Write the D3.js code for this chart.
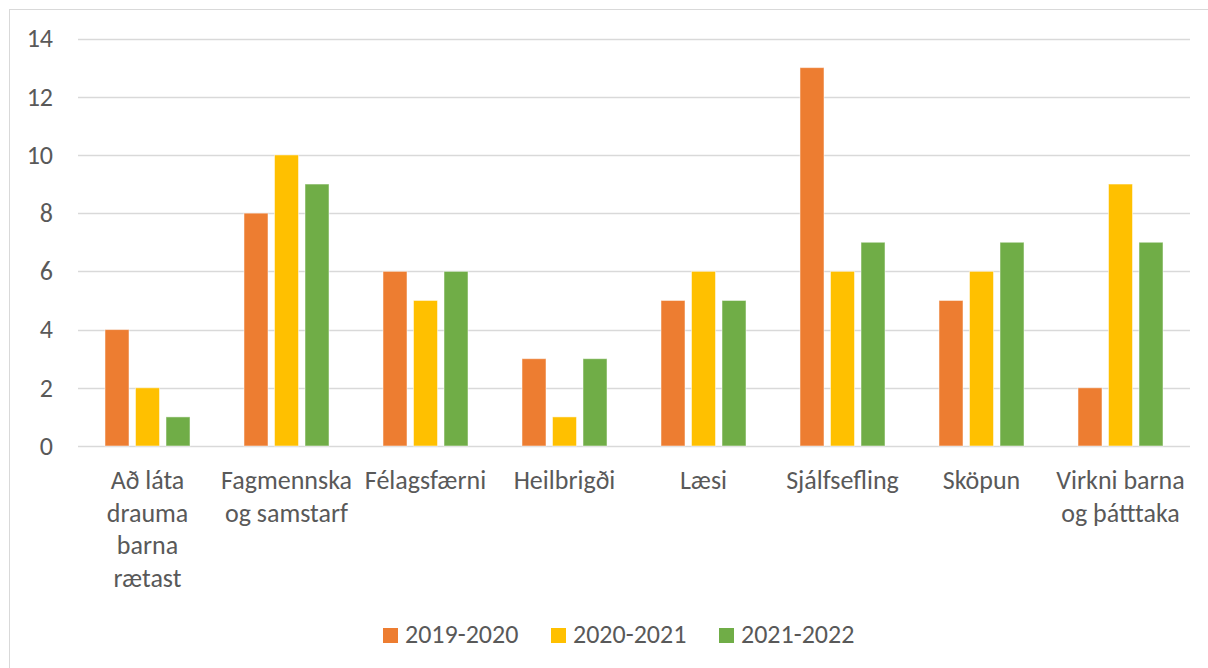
<!DOCTYPE html>
<html>
<head>
<meta charset="utf-8">
<script src="https://cdn.jsdelivr.net/npm/d3@7"></script>
<style>
  html, body { margin: 0; padding: 0; background: #fff; }
  svg { display: block; }
  text { font-family: Carlito, Calibri, "Open Sans", sans-serif; fill: #595959; }
</style>
</head>
<body>
<svg id="chart" width="1208" height="668"></svg>
<script>
// Categories (line breaks as shown under the axis)
const categories = [
  "Að láta\ndrauma\nbarna\nrætast",
  "Fagmennska\nog samstarf",
  "Félagsfærni",
  "Heilbrigði",
  "Læsi",
  "Sjálfsefling",
  "Sköpun",
  "Virkni barna\nog þátttaka"
];
const seriesNames = ["2019-2020", "2020-2021", "2021-2022"];
const values2019 = [4, 8, 6, 3, 5, 13, 5, 2];
const values2020 = [2, 10, 5, 1, 6, 6, 6, 9];
const values2021 = [1, 9, 6, 3, 5, 7, 7, 7];
const yTicks = [0, 2, 4, 6, 8, 10, 12, 14];
const colors = ["#ED7D31", "#FFC000", "#70AD47"];

const series = [values2019, values2020, values2021];
const FONT = "Carlito, Calibri, 'Open Sans', sans-serif";
const FONT_SIZE = 26;

const svg = d3.select("#chart");
const W = 1208, H = 668;

// Outer chart frame
svg.append("rect")
  .attr("x", 9.5).attr("y", 9.5)
  .attr("width", W).attr("height", H)
  .attr("fill", "#fff")
  .attr("stroke", "#d9d9d9").attr("stroke-width", 1);

const plot = { left: 78, right: 1190, top: 38.5, bottom: 446 };

const x = d3.scaleBand()
  .domain(categories)
  .range([plot.left, plot.right])
  .paddingInner(0).paddingOuter(0);

const y = d3.scaleLinear()
  .domain([0, 14])
  .range([plot.bottom, plot.top]);

// Horizontal gridlines
svg.append("g")
  .selectAll("line")
  .data(yTicks)
  .join("line")
  .attr("x1", plot.left).attr("x2", plot.right)
  .attr("y1", d => Math.round(y(d)) + 0.5)
  .attr("y2", d => Math.round(y(d)) + 0.5)
  .attr("stroke", "#d9d9d9").attr("stroke-width", 1.3);

// Y axis labels
const yAxis = d3.axisLeft(y).tickValues(yTicks).tickSize(0).tickPadding(0);
const gy = svg.append("g").attr("transform", `translate(53,0)`).call(yAxis);
gy.select(".domain").remove();
gy.selectAll("text")
  .attr("font-size", FONT_SIZE)
  .attr("fill", "#595959")
  .style("font-family", FONT);

// Bars within each category
const inner = d3.scaleBand()
  .domain(d3.range(series.length))
  .range([0, x.bandwidth()])
  .paddingInner(0.213)
  .paddingOuter(0.885);

series.forEach((vals, si) => {
  svg.append("g")
    .selectAll("rect")
    .data(vals.map((v, i) => ({ cat: categories[i], v })))
    .join("rect")
    .attr("x", d => x(d.cat) + inner(si))
    .attr("y", d => y(d.v))
    .attr("width", inner.bandwidth())
    .attr("height", d => y(0) - y(d.v))
    .attr("fill", colors[si])
    .attr("stroke", "#fff")
    .attr("stroke-opacity", 0.5)
    .attr("stroke-width", 1);
});

// Category labels, multi-line
const xLabels = svg.append("g")
  .selectAll("text")
  .data(categories)
  .join("text")
  .attr("x", d => x(d) + x.bandwidth() / 2)
  .attr("y", 489)
  .attr("text-anchor", "middle")
  .attr("font-size", FONT_SIZE);
xLabels.each(function (d) {
  const t = d3.select(this);
  d.split("\n").forEach((line, i) => {
    t.append("tspan")
      .attr("x", x(d) + x.bandwidth() / 2)
      .attr("dy", i === 0 ? 0 : 32.5)
      .text(line);
  });
});

// Legend
const legendX = [383, 551, 719];
const legend = svg.append("g");
seriesNames.forEach((name, i) => {
  legend.append("rect")
    .attr("x", legendX[i]).attr("y", 628)
    .attr("width", 15).attr("height", 15)
    .attr("fill", colors[i]);
  legend.append("text")
    .attr("x", legendX[i] + 22).attr("y", 643)
    .attr("font-size", FONT_SIZE)
    .text(name);
});
</script>
</body>
</html>
